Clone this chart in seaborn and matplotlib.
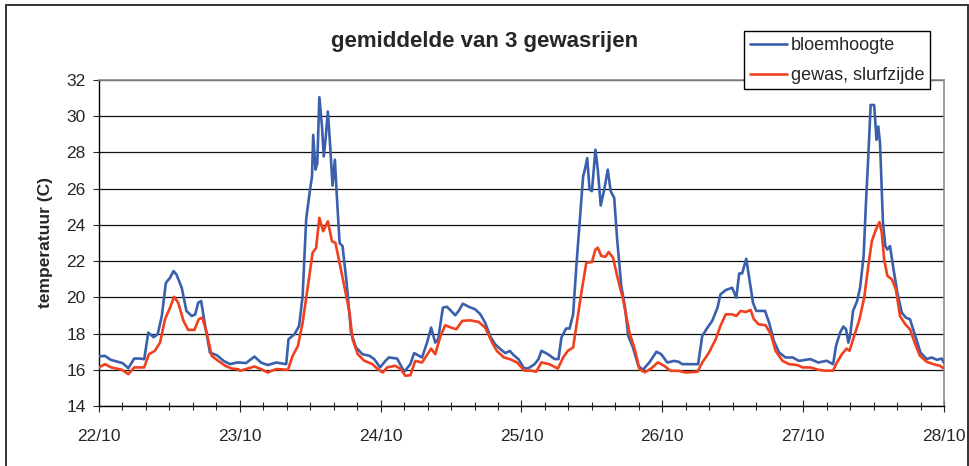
import numpy as np
import pandas as pd
import matplotlib
matplotlib.use("Agg")
import matplotlib.pyplot as plt
import seaborn as sns
from matplotlib.ticker import MultipleLocator
from matplotlib.lines import Line2D

# tijd in uren vanaf 22/10 0:00, temperatuur (C)
bloem_uur = [0.0, 1.0, 2.0, 3.0, 4.0, 5.0, 6.0, 7.0, 7.7, 8.4, 9.3, 10.0, 10.7, 11.4, 12.1, 12.7, 13.2,
             14.1, 14.9, 15.8, 16.4, 16.9, 17.4, 18.1, 18.9, 20.1, 21.2, 22.3, 23.5,
             24.0, 25.05, 26.5, 27.6, 28.75, 30.2, 31.9, 32.3, 33.3, 34.1, 34.7, 35.3, 35.96, 36.3,
             36.5, 36.9, 37.2, 37.55, 38.0, 38.3, 38.6, 39.0, 39.4, 39.8, 40.2, 40.5, 41.0, 41.5,
             42.2, 42.95, 43.8, 44.9, 46.1, 46.9, 47.9,
             48.8, 49.4, 50.8, 52.0, 53.06, 53.7, 55.05, 55.9, 56.6, 57.3, 57.8, 58.6, 59.3, 60.0,
             60.7, 61.3, 62.0, 63.0, 64.1, 65.0, 65.8, 66.7, 67.5, 68.4, 69.25, 70.0, 70.7, 71.5, 72.4,
             73.1, 74.2, 74.9, 75.4, 76.5, 77.65, 78.3, 78.8, 79.6, 80.2, 80.8, 81.35, 81.9, 82.5,
             82.8, 83.2, 83.6, 84.0, 84.6, 85.0, 85.5, 86.1, 86.7, 87.2, 87.8, 88.3, 89.0, 89.6,
             90.2, 91.0, 91.9, 92.7, 93.8, 95.0, 95.8,
             96.85, 98.0, 98.8, 99.4, 100.5, 102.1, 102.8, 103.7, 104.5, 105.4, 105.9, 106.8, 107.9,
             108.6, 109.1, 109.6, 110.3, 110.8, 111.45, 112.0, 112.8, 113.5, 114.2, 115.0, 115.9,
             117.0, 118.2, 119.3,
             121.2, 122.6, 124.0, 125.1, 125.6, 126.3, 126.85, 127.3, 127.7, 128.0, 128.5, 129.2,
             129.7, 130.3, 130.7, 131.1, 131.5, 132.1, 132.5, 132.8, 133.1, 133.6, 134.0, 134.35,
             134.8, 135.4, 136.05, 136.8, 137.5, 138.2, 139.1, 140.0, 141.05, 141.9, 142.8, 143.6, 144.0]
bloem_temp = [16.73, 16.77, 16.55, 16.46, 16.37, 16.09, 16.62, 16.62, 16.58, 18.05, 17.8, 17.96, 18.97,
              20.8, 21.08, 21.45, 21.26, 20.53, 19.25, 18.97, 19.06, 19.7, 19.8, 18.42, 16.95, 16.8,
              16.5, 16.31, 16.4,
              16.4, 16.37, 16.73, 16.4, 16.26, 16.4, 16.31, 17.69, 17.96, 18.42, 20.07, 24.3, 25.94,
              26.68, 28.97, 27.05, 27.41, 31.05, 29.43, 27.78, 28.7, 30.26, 28.33, 26.17, 27.6, 25.76,
              23.0, 22.83, 20.8, 18.05, 17.23, 16.86, 16.77, 16.59, 16.13,
              16.49, 16.68, 16.62, 15.89, 16.31, 16.92, 16.68, 17.5, 18.33, 17.5, 17.69, 19.43, 19.48,
              19.25, 19.01, 19.25, 19.65, 19.48, 19.34, 19.06, 18.6, 17.83, 17.41, 17.14, 16.92, 17.04,
              16.8, 16.58, 16.1,
              16.07, 16.3, 16.59, 17.05, 16.86, 16.59, 16.59, 17.78, 18.28, 18.28, 19.07, 21.73, 24.11,
              26.68, 27.05, 27.69, 25.95, 25.86, 28.15, 27.05, 25.07, 25.95, 27.05, 25.86, 25.49, 23.2,
              20.63, 19.53, 17.87, 17.23, 16.22, 16.0, 16.41, 17.0, 16.86,
              16.4, 16.49, 16.44, 16.31, 16.31, 16.31, 17.87, 18.33, 18.7, 19.43, 20.16, 20.4, 20.53,
              19.98, 21.32, 21.32, 22.13, 21.08, 19.7, 19.25, 19.25, 19.25, 18.6, 17.6, 16.95, 16.68,
              16.68, 16.49,
              16.59, 16.4, 16.5, 16.31, 17.32, 18.06, 18.39, 18.24, 17.5, 17.87, 19.25, 19.8, 20.53,
              22.28, 25.21, 27.78, 30.62, 30.62, 28.7, 29.43, 28.5, 24.11, 22.83, 22.64, 22.83, 21.54,
              20.26, 19.16, 18.88, 18.79, 17.87, 16.95, 16.59, 16.68, 16.55, 16.62, 16.4]

gewas_uur = [0.0, 1.0, 2.1, 3.9, 5.0, 6.0, 7.7, 8.5, 9.5, 10.4, 11.25, 12.1, 12.8, 13.5, 14.4, 15.2,
             16.25, 17.0, 17.6, 18.35, 19.2, 20.3, 21.5, 22.6, 23.75,
             24.0, 25.05, 26.5, 27.6, 28.75, 30.2, 32.2, 33.0, 33.9, 34.7, 35.6, 36.4, 37.0, 37.55,
             38.2, 39.0, 39.7, 40.3, 41.0, 41.8, 42.7, 43.2, 44.1, 45.2, 46.6, 47.5, 48.35,
             49.1, 50.5, 51.4, 52.2, 53.06, 53.9, 55.05, 55.8, 56.6, 57.3, 58.2, 59.0, 60.0, 60.9,
             61.9, 63.3, 64.7, 65.8, 67.0, 67.8, 69.0, 70.1, 71.25,
             72.5, 73.7, 74.5, 75.4, 76.8, 78.2, 79.1, 79.9, 80.8, 81.35, 82.2, 83.05, 84.0, 84.6,
             85.0, 85.6, 86.3, 86.85, 87.6, 88.3, 89.3, 90.4, 91.3, 92.1, 93.0, 94.1, 95.25, 96.4,
             97.4, 98.8, 100.0, 102.0, 102.8, 103.95, 105.1, 105.9, 106.8, 107.9, 108.6, 109.35,
             110.2, 111.05, 111.6, 112.4, 113.6, 114.5, 115.3, 116.5, 117.6, 119.0, 119.9,
             121.2, 122.6, 123.7, 125.1, 125.7, 126.6, 127.4, 127.9, 128.7, 129.6, 130.4, 131.1,
             131.7, 132.4, 133.0, 133.4, 133.8, 134.35, 135.1, 135.8, 136.5, 137.4, 138.2, 139.1,
             139.9, 141.05, 142.2, 143.3, 144.0]
gewas_temp = [16.13, 16.31, 16.13, 16.0, 15.76, 16.13, 16.13, 16.86, 17.04, 17.5, 18.79, 19.43, 20.03,
              19.7, 18.7, 18.2, 18.2, 18.79, 18.88, 18.05, 16.77, 16.5, 16.22, 16.07, 16.03,
              15.94, 16.04, 16.18, 16.04, 15.85, 16.04, 16.0, 16.77, 17.32, 18.6, 20.62, 22.46, 22.73,
              24.39, 23.65, 24.2, 23.1, 23.0, 21.9, 20.62, 19.16, 17.69, 16.86, 16.5, 16.31, 16.04, 15.85,
              16.13, 16.22, 16.04, 15.67, 15.7, 16.49, 16.4, 16.77, 17.17, 16.86, 17.87, 18.46, 18.33,
              18.24, 18.7, 18.73, 18.64, 18.33, 17.5, 17.04, 16.68, 16.58, 16.4,
              15.95, 15.95, 15.89, 16.41, 16.3, 16.07, 16.68, 17.05, 17.23, 18.42, 20.26, 21.91, 21.95,
              22.64, 22.74, 22.28, 22.24, 22.5, 22.19, 21.18, 19.89, 18.06, 17.14, 16.04, 15.86, 16.07,
              16.41, 16.2,
              15.94, 15.94, 15.85, 15.89, 16.4, 16.95, 17.69, 18.42, 19.06, 19.06, 18.97, 19.25, 19.19,
              19.3, 18.79, 18.51, 18.46, 17.96, 17.04, 16.49, 16.31, 16.26, 16.13,
              16.13, 16.0, 15.95, 15.95, 16.37, 16.86, 17.17, 17.05, 17.87, 18.79, 19.98, 21.73, 23.1,
              23.74, 24.15, 23.56, 22.09, 21.18, 21.0, 20.44, 18.97, 18.51, 18.24, 17.41, 16.77, 16.44,
              16.31, 16.22, 16.07]

dag_labels = ["22/10", "23/10", "24/10", "25/10", "26/10", "27/10", "28/10"]
reeks_namen = ["bloemhoogte", "gewas, slurfzijde"]
kleuren = ["#3a5fad", "#f0401e"]

df = pd.concat([
    pd.DataFrame({"uur": bloem_uur, "temp": bloem_temp, "reeks": reeks_namen[0]}),
    pd.DataFrame({"uur": gewas_uur, "temp": gewas_temp, "reeks": reeks_namen[1]}),
])

sns.set_style("white")
plt.rcParams["font.family"] = ["Liberation Sans", "DejaVu Sans"]

fig = plt.figure(figsize=(9.7, 4.66), dpi=100)
ax = fig.add_axes([99/970, 1-406/466, (944-99)/970, (406-80)/466])

sns.lineplot(data=df, x="uur", y="temp", hue="reeks", palette=kleuren, estimator=None,
             sort=False, linewidth=1.9, ax=ax, legend=False, zorder=3)

ax.set_xlim(0, 144)
ax.set_ylim(14, 32)
ax.set_yticks(np.arange(14, 33, 2))
ax.set_xticks(np.arange(0, 145, 24))
ax.set_xticklabels(dag_labels)
ax.xaxis.set_minor_locator(MultipleLocator(4))
ax.grid(axis="y", color="#111111", linewidth=0.9)
ax.set_axisbelow(True)
ax.set_xlabel("")
ax.set_ylabel("")

for kant in ["top", "right"]:
    ax.spines[kant].set_color("#8c8c8c")
    ax.spines[kant].set_linewidth(1.2)
for kant in ["left", "bottom"]:
    ax.spines[kant].set_color("black")
    ax.spines[kant].set_linewidth(1.0)

ax.tick_params(axis="y", direction="out", length=4.5, width=0.8, pad=5, labelsize=12.5, left=True)
ax.tick_params(axis="x", which="major", direction="inout", length=8.5, width=0.8, pad=12.5,
               labelsize=12.5, bottom=True)
ax.tick_params(axis="x", which="minor", direction="inout", length=6, width=0.8, bottom=True)

fig.text(0.5, 1-42/466, "gemiddelde van 3 gewasrijen", ha="center", va="center",
         fontsize=16, fontweight="bold")
fig.text(46/970, 1-243/466, "temperatuur (C)", ha="center", va="center", rotation=90,
         fontsize=12.5, fontweight="bold")

handles = [Line2D([], [], color=c, linewidth=1.9) for c in kleuren]
leg = fig.legend(handles, reeks_namen, loc="upper right", bbox_to_anchor=(930/970, 1-31.5/466),
                 fontsize=13, frameon=True, fancybox=False, framealpha=1, edgecolor="black",
                 handlelength=2.1, handletextpad=0.2, labelspacing=0.72, borderpad=0.3,
                 borderaxespad=0)
leg.get_frame().set_linewidth(1.0)

# rand om het hele diagram
rand_y = 1-5/466
for xs, ys in [([6/970, 6/970], [0, rand_y]), ([6/970, 968/970], [rand_y, rand_y]),
               ([968/970, 968/970], [0, rand_y])]:
    fig.add_artist(Line2D(xs, ys, color="#333333", linewidth=1.4, transform=fig.transFigure))

fig.savefig("out.png", dpi=100, facecolor="white")
